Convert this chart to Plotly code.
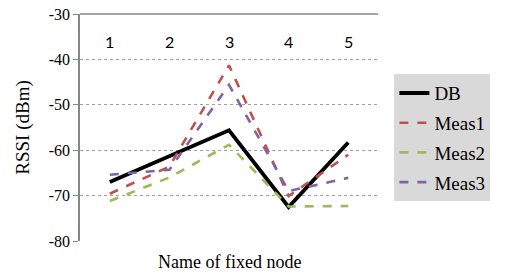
import plotly.graph_objects as go

nodes = ["1", "2", "3", "4", "5"]
db = [-67.0, -61.3, -55.6, -72.5, -58.3]
meas1 = [-69.6, -63.6, -41.3, -70.1, -61.0]
meas2 = [-71.2, -66.0, -58.8, -72.4, -72.3]
meas3 = [-65.4, -64.3, -45.6, -69.0, -66.1]
y_ticks = [-80, -70, -60, -50, -40, -30]
y_tick_text = ["-80", "-70", "-60", "-50", "-40", "-30"]

serif = "Liberation Serif, Times New Roman, serif"

series = [
    ("DB", db, "#000000", "solid", 3.8),
    ("Meas1", meas1, "#C0504D", "dash", 2.6),
    ("Meas2", meas2, "#9BBB59", "dash", 2.6),
    ("Meas3", meas3, "#8064A2", "dash", 2.6),
]

fig = go.Figure()
for name, vals, color, dash, w in series:
    fig.add_trace(go.Scatter(
        x=nodes, y=vals, name=name, mode="lines", legendgroup=name,
        line=dict(color=color, dash=dash, width=w),
    ))

# category labels drawn just under the top axis line
annotations = [dict(
    text=n, x=i, xref="x", y=1, yref="paper", yshift=-27,
    xanchor="center", yanchor="middle", showarrow=False,
    font=dict(family="Lato", size=16, color="black"),
) for i, n in enumerate(nodes)]
annotations.append(dict(
    text="Name of fixed node", xref="paper", yref="paper",
    x=0.5, y=-0.0925, xanchor="center", yanchor="middle", showarrow=False,
    font=dict(family=serif, size=18, color="black"),
))

fig.update_layout(
    width=497, height=269,
    margin=dict(l=72, r=127, t=6, b=36, autoexpand=False),
    paper_bgcolor="white", plot_bgcolor="white",
    font=dict(family=serif, size=16, color="black"),
    showlegend=True,
    legend=dict(
        x=1.055, y=0.735, xanchor="left", yanchor="top",
        bgcolor="#D9D9D9", font=dict(family=serif, size=19, color="black"),
        tracegroupgap=2, traceorder="grouped",
    ),
    xaxis=dict(
        type="category", range=[-0.5, 4.5],
        showticklabels=False, showline=False,
        showgrid=False, ticks="", zeroline=False,
    ),
    yaxis=dict(
        range=[-80, -30], tickmode="array", tickvals=y_ticks, ticktext=y_tick_text,
        ticklabeloverflow="allow",
        showline=True, linecolor="#868686", linewidth=1.5,
        ticks="outside", ticklen=5, tickcolor="#868686",
        showgrid=True, gridcolor="#A0A0A0", griddash="dot", gridwidth=1,
        zeroline=False,
        tickfont=dict(family=serif, size=16, color="black"),
        title=dict(text="RSSI (dBm)", font=dict(family=serif, size=19, color="black"), standoff=14),
    ),
    shapes=[dict(
        type="line", xref="paper", yref="paper", x0=0, x1=1, y0=1, y1=1,
        line=dict(color="#868686", width=1.5), layer="above",
    )],
    annotations=annotations,
)

fig.write_html("out.html")
